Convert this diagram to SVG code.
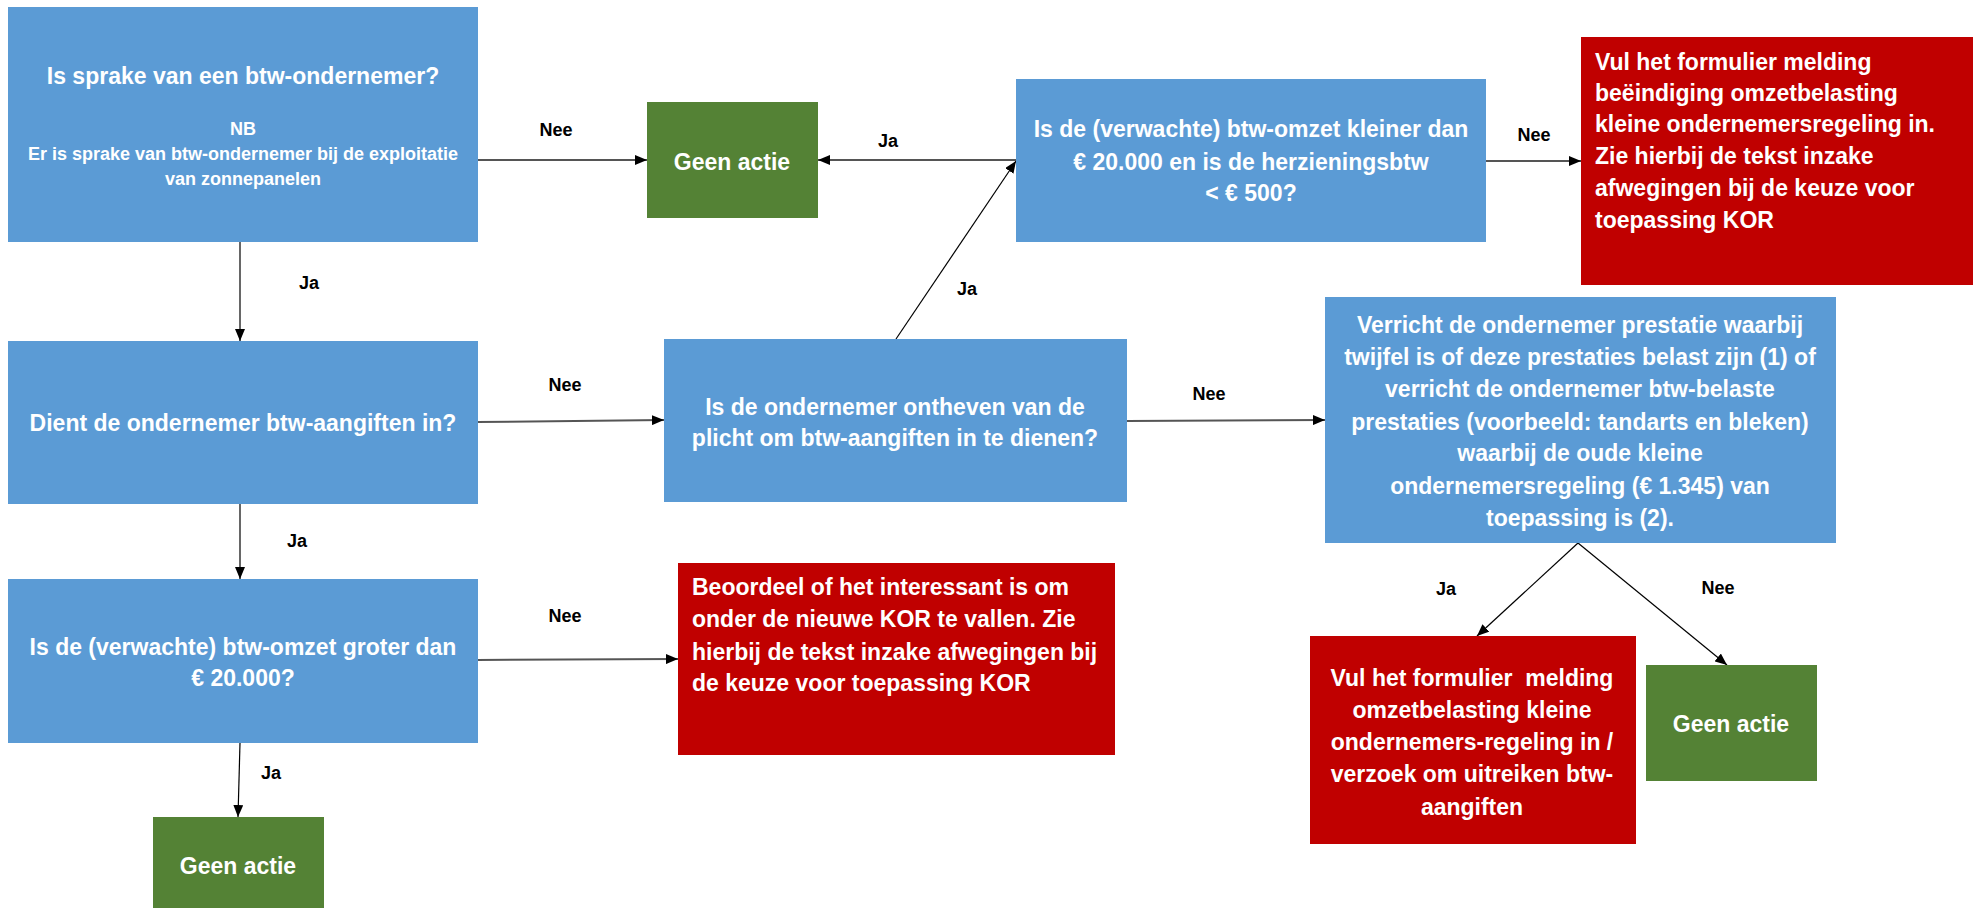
<svg xmlns="http://www.w3.org/2000/svg" width="1978" height="908" viewBox="0 0 1978 908">
<defs>
<marker id="ah" viewBox="0 0 12 10" refX="12" refY="5" markerWidth="12" markerHeight="10" markerUnits="userSpaceOnUse" orient="auto">
<path d="M0,0 L12,5 L0,10 z" fill="#000"/>
</marker>
</defs>
<style>
.blue{fill:#5B9BD5}
.green{fill:#548235}
.red{fill:#C00000}
.t{font-family:"Liberation Sans",Arial,sans-serif;font-weight:bold;font-size:23px;fill:#fff}
.c{text-anchor:middle}
.s{font-size:18px}
.lbl{font-family:"Liberation Sans",Arial,sans-serif;font-weight:bold;font-size:18px;fill:#000;text-anchor:middle}
.ln{stroke:#000;stroke-width:1.2;fill:none;marker-end:url(#ah)}
.lh{stroke:#555;stroke-width:2;fill:none;marker-end:url(#ah)}
</style>
<rect width="1978" height="908" fill="#fff"/>

<g id="connectors">
<line class="lh" x1="478" y1="160" x2="647" y2="160"/>
<line class="lh" x1="1016" y1="160" x2="818" y2="160"/>
<line class="lh" x1="1486" y1="161" x2="1581" y2="161"/>
<line class="ln" x1="240" y1="242" x2="240" y2="341"/>
<line class="lh" x1="478" y1="422" x2="664" y2="420"/>
<line class="ln" x1="896" y1="339" x2="1016" y2="161"/>
<line class="lh" x1="1127" y1="421" x2="1325" y2="420"/>
<line class="ln" x1="240" y1="504" x2="240" y2="579"/>
<line class="lh" x1="478" y1="660" x2="678" y2="659"/>
<line class="ln" x1="240" y1="743" x2="238" y2="817"/>
<line class="ln" x1="1578" y1="543" x2="1477" y2="636"/>
<line class="ln" x1="1578" y1="543" x2="1727" y2="665"/>
<text class="lbl" x="556" y="136">Nee</text>
<text class="lbl" x="888" y="147">Ja</text>
<text class="lbl" x="309" y="289">Ja</text>
<text class="lbl" x="967" y="295">Ja</text>
<text class="lbl" x="1534" y="141">Nee</text>
<text class="lbl" x="565" y="391">Nee</text>
<text class="lbl" x="1209" y="400">Nee</text>
<text class="lbl" x="297" y="547">Ja</text>
<text class="lbl" x="565" y="622">Nee</text>
<text class="lbl" x="271" y="779">Ja</text>
<text class="lbl" x="1446" y="595">Ja</text>
<text class="lbl" x="1718" y="594">Nee</text>
</g>

<g id="n1">
<rect class="blue" x="8" y="7" width="470" height="235"/>
<text class="t c" x="243" y="84">Is sprake van een btw-ondernemer?</text>
<text class="t c s" x="243" y="135">NB</text>
<text class="t c s" x="243" y="160">Er is sprake van btw-ondernemer bij de exploitatie</text>
<text class="t c s" x="243" y="185">van zonnepanelen</text>
</g>

<g id="g1">
<rect class="green" x="647" y="102" width="171" height="116"/>
<text class="t c" x="732" y="170">Geen actie</text>
</g>

<g id="n_kleiner">
<rect class="blue" x="1016" y="79" width="470" height="163"/>
<text class="t c" x="1251" y="137">Is de (verwachte) btw-omzet kleiner dan</text>
<text class="t c" x="1251" y="170">€ 20.000 en is de herzieningsbtw</text>
<text class="t c" x="1251" y="201">&lt; € 500?</text>
</g>

<g id="r1">
<rect class="red" x="1581" y="37" width="392" height="248"/>
<text class="t" x="1595" y="70">Vul het formulier melding</text>
<text class="t" x="1595" y="101">beëindiging omzetbelasting</text>
<text class="t" x="1595" y="132">kleine ondernemersregeling in.</text>
<text class="t" x="1595" y="164">Zie hierbij de tekst inzake</text>
<text class="t" x="1595" y="196">afwegingen bij de keuze voor</text>
<text class="t" x="1595" y="228">toepassing KOR</text>
</g>

<g id="n2">
<rect class="blue" x="8" y="341" width="470" height="163"/>
<text class="t c" x="243" y="431">Dient de ondernemer btw-aangiften in?</text>
</g>

<g id="n_ontheven">
<rect class="blue" x="664" y="339" width="463" height="163"/>
<text class="t c" x="895" y="415">Is de ondernemer ontheven van de</text>
<text class="t c" x="895" y="446">plicht om btw-aangiften in te dienen?</text>
</g>

<g id="n_verricht">
<rect class="blue" x="1325" y="297" width="511" height="246"/>
<text class="t c" x="1580" y="333">Verricht de ondernemer prestatie waarbij</text>
<text class="t c" x="1580" y="365">twijfel is of deze prestaties belast zijn (1) of</text>
<text class="t c" x="1580" y="397">verricht de ondernemer btw-belaste</text>
<text class="t c" x="1580" y="430">prestaties (voorbeeld: tandarts en bleken)</text>
<text class="t c" x="1580" y="461">waarbij de oude kleine</text>
<text class="t c" x="1580" y="494">ondernemersregeling (€ 1.345) van</text>
<text class="t c" x="1580" y="526">toepassing is (2).</text>
</g>

<g id="n3">
<rect class="blue" x="8" y="579" width="470" height="164"/>
<text class="t c" x="243" y="655">Is de (verwachte) btw-omzet groter dan</text>
<text class="t c" x="243" y="686">€ 20.000?</text>
</g>

<g id="r2">
<rect class="red" x="678" y="563" width="437" height="192"/>
<text class="t" x="692" y="595">Beoordeel of het interessant is om</text>
<text class="t" x="692" y="627">onder de nieuwe KOR te vallen. Zie</text>
<text class="t" x="692" y="660">hierbij de tekst inzake afwegingen bij</text>
<text class="t" x="692" y="691">de keuze voor toepassing KOR</text>
</g>

<g id="g2">
<rect class="green" x="153" y="817" width="171" height="95"/>
<text class="t c" x="238" y="874">Geen actie</text>
</g>

<g id="r3">
<rect class="red" x="1310" y="636" width="326" height="208"/>
<text class="t c" x="1472" y="686" style="white-space:pre">Vul het formulier  melding</text>
<text class="t c" x="1472" y="718">omzetbelasting kleine</text>
<text class="t c" x="1472" y="750">ondernemers-regeling in /</text>
<text class="t c" x="1472" y="782">verzoek om uitreiken btw-</text>
<text class="t c" x="1472" y="815">aangiften</text>
</g>

<g id="g3">
<rect class="green" x="1646" y="665" width="171" height="116"/>
<text class="t c" x="1731" y="732">Geen actie</text>
</g>
</svg>
